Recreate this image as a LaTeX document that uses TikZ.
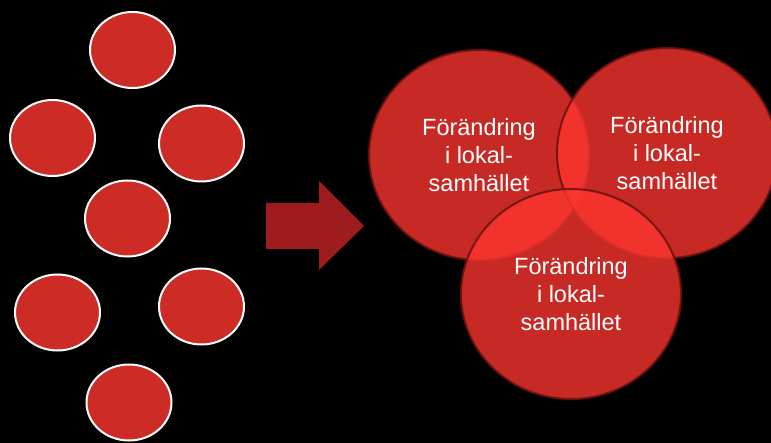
\documentclass[tikz,border=0pt]{standalone}
\usepackage{fontspec}
\setmainfont{Liberation Sans}
\usetikzlibrary{shapes.geometric}

\definecolor{dotred}{RGB}{205,43,38}
\definecolor{arrowred}{RGB}{158,27,30}
\definecolor{vennred}{RGB}{255,54,48}
\definecolor{vennrim}{RGB}{110,18,14}

\tikzset{
  dot/.style={ellipse, draw=white, line width=2pt, fill=dotred,
    minimum width=85, minimum height=76, inner sep=0pt},
  venn/.style={ellipse, draw=vennrim, draw opacity=0.9, line width=2pt,
    fill=vennred, fill opacity=0.78, text opacity=1, text=white,
    minimum width=220, minimum height=210, inner sep=0pt,
    align=center, font=\fontsize{23.5}{28}\selectfont},
}

\begin{document}
\begin{tikzpicture}[x=1pt,y=-1pt]

\fill[black] (0,0) rectangle (771,443);
\useasboundingbox (0,0) rectangle (771,443);

% small dots
\node[dot] (d1) at (132.5,50) {};
\node[dot] (d2) at (52.5,138) {};
\node[dot] (d3) at (201.5,143.5) {};
\node[dot] (d4) at (127.5,218.5) {};
\node[dot] (d5) at (57.5,312.5) {};
\node[dot] (d6) at (201.5,306.5) {};
\node[dot] (d7) at (129,402.5) {};

% arrow
\fill[arrowred] (266,203) -- (319,203) -- (319,181) -- (364,226)
  -- (319,270) -- (319,249) -- (266,249) -- cycle;

% the three circles
\node[venn] (v1) at (479,155) {Förändring\\i lokal-\\samhället};
\node[venn] (v2) at (667,153) {Förändring\\i lokal-\\samhället};
\node[venn] (v3) at (571,294) {Förändring\\i lokal-\\samhället};

\end{tikzpicture}
\end{document}
